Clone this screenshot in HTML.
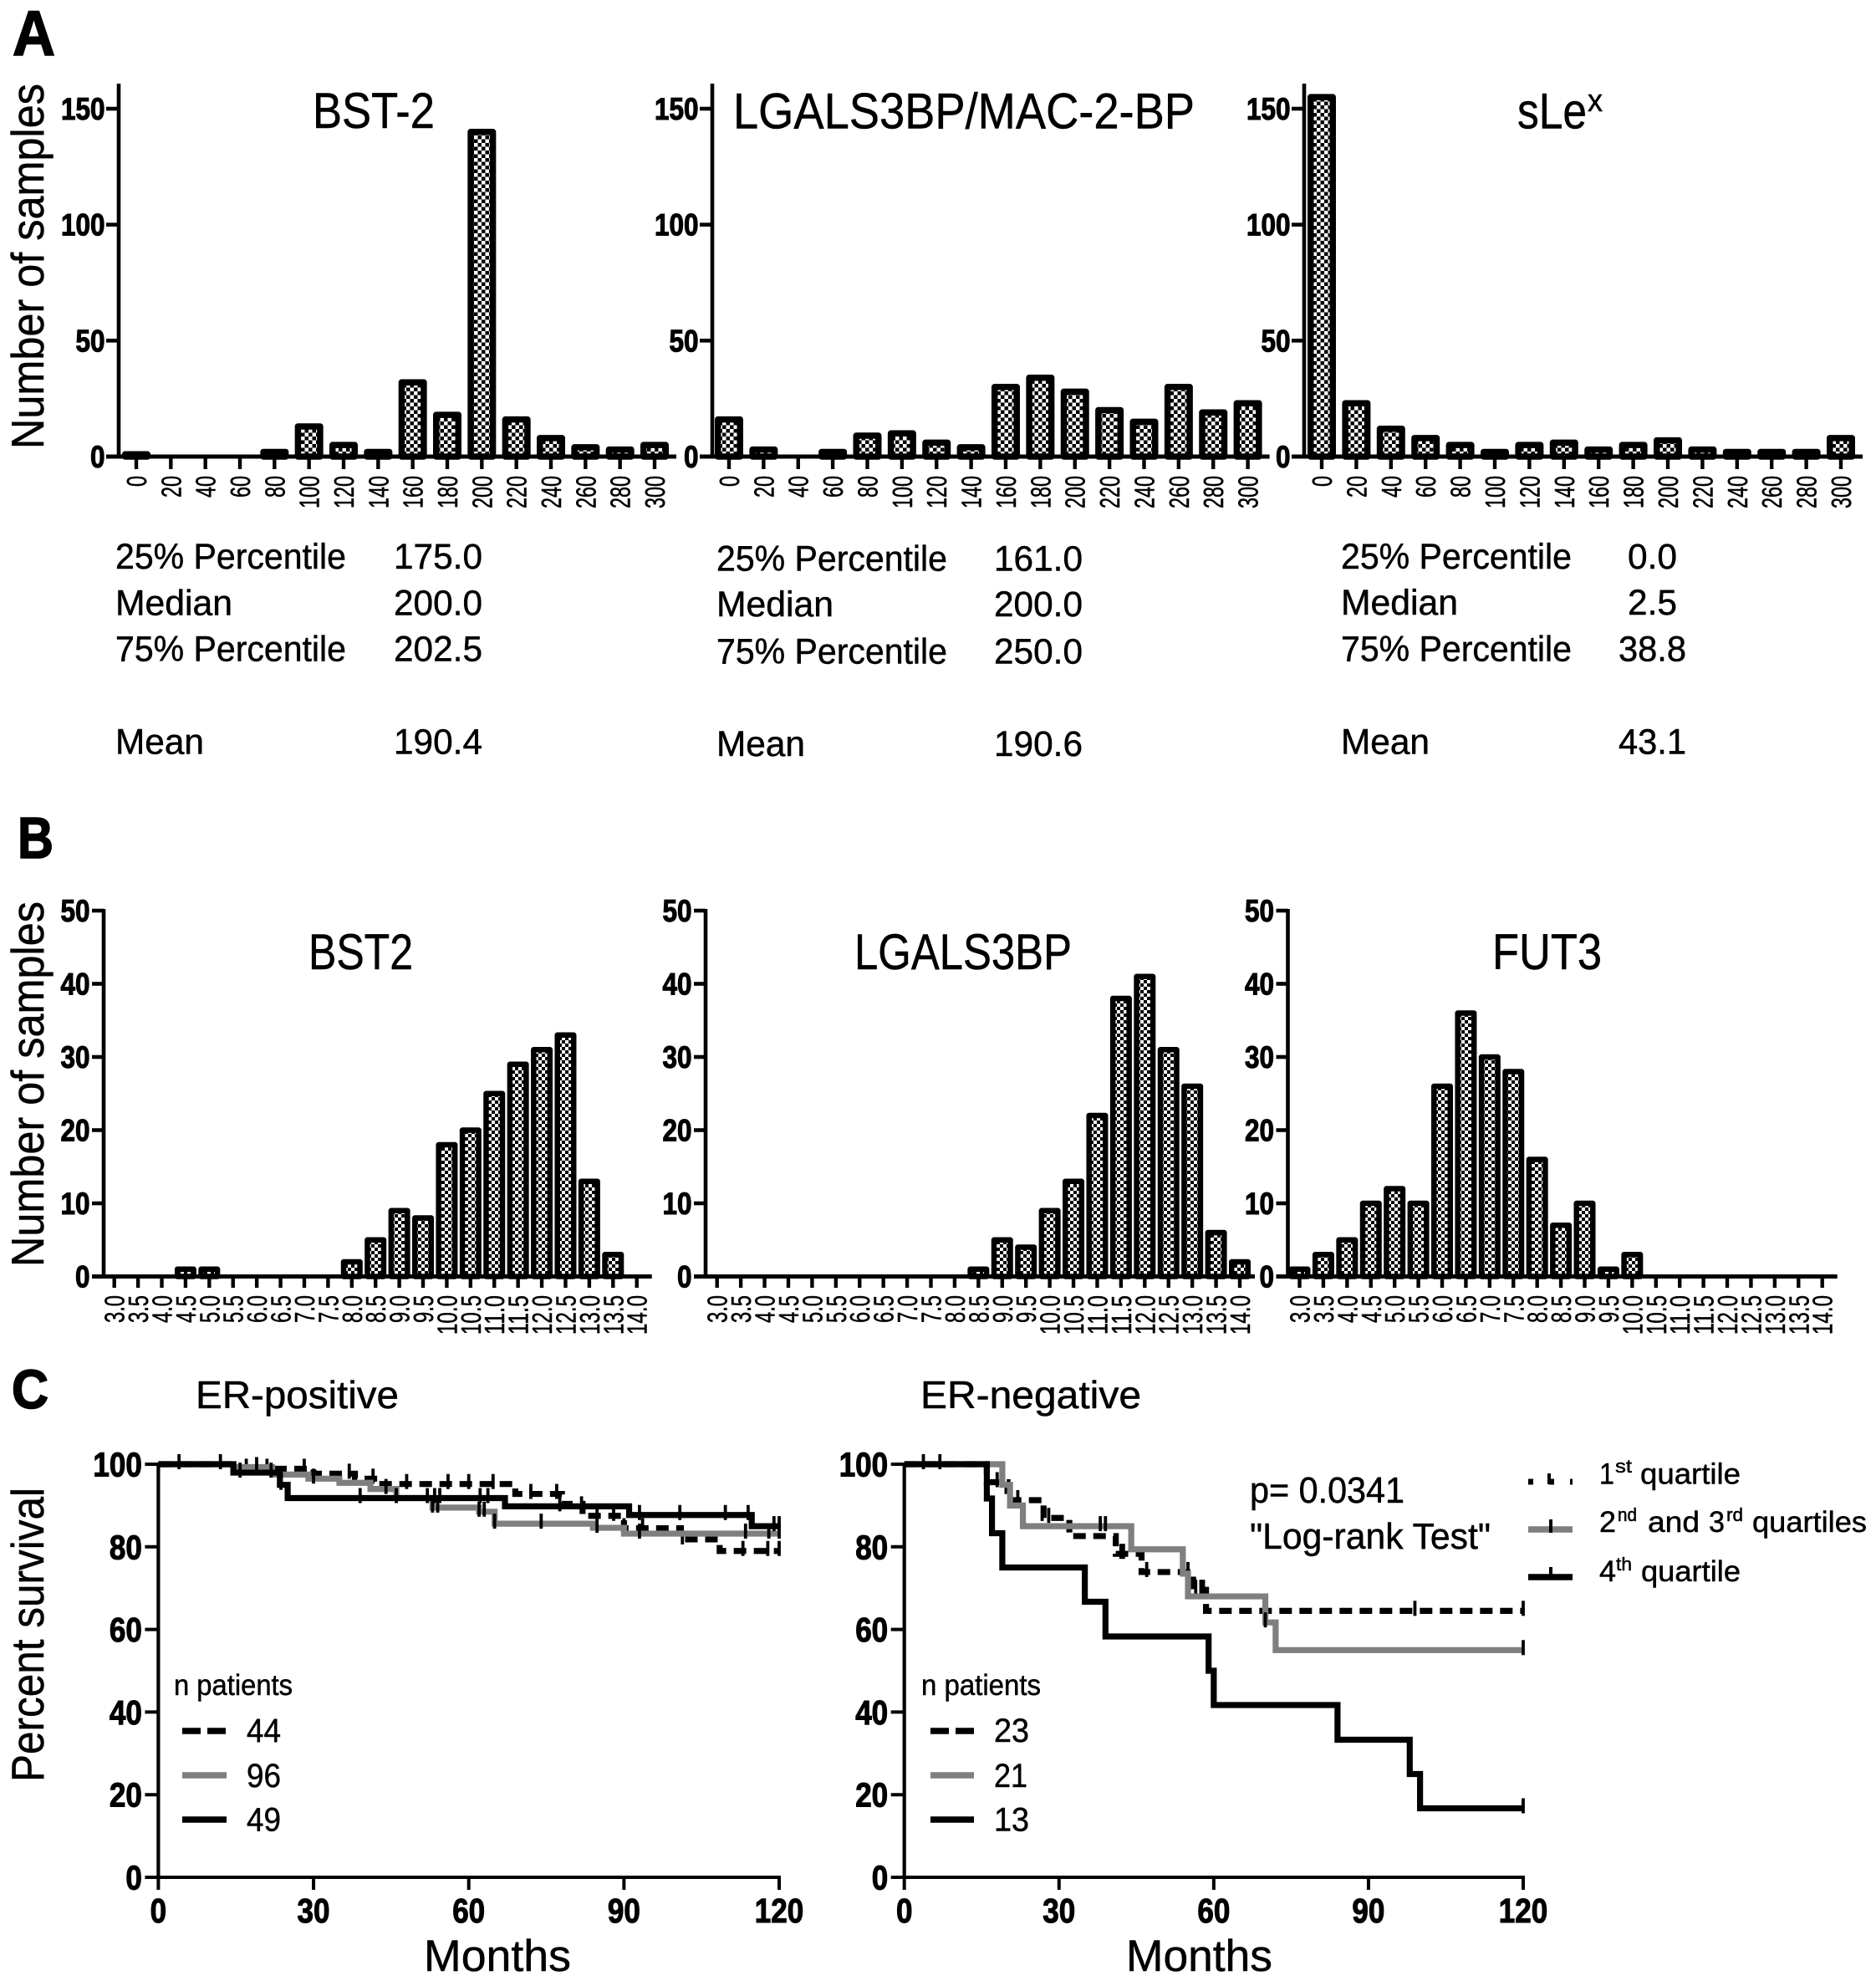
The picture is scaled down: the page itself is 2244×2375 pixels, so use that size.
<!DOCTYPE html>
<html lang="en">
<head>
<meta charset="utf-8">
<title>Glycoprotein histograms and survival curves</title>
<style>
html,body{margin:0;padding:0;background:#fff;}
svg{display:block;}
text{font-family:"Liberation Sans",sans-serif;fill:#000;stroke:#000;stroke-width:0.5px;}
.b{font-weight:bold;stroke-width:1.6px;}
</style>
</head>
<body>
<svg id="fig" xmlns="http://www.w3.org/2000/svg" width="2244" height="2375" viewBox="0 0 2244 2375">
<defs>
<pattern id="checkA" patternUnits="userSpaceOnUse" width="9" height="9">
<rect width="9" height="9" fill="#000"/><rect width="4.5" height="4.5" fill="#fff"/><rect x="4.5" y="4.5" width="4.5" height="4.5" fill="#fff"/>
</pattern>
<pattern id="checkB" patternUnits="userSpaceOnUse" width="8" height="8">
<rect width="8" height="8" fill="#000"/><rect width="4" height="4" fill="#fff"/><rect x="4" y="4" width="4" height="4" fill="#fff"/>
</pattern>
</defs>
<rect width="2244" height="2375" fill="#fff"/>

<text class="b" x="15" y="66" font-size="76" textLength="51" lengthAdjust="spacingAndGlyphs">A</text>
<text class="b" x="21" y="1026" font-size="70" textLength="43" lengthAdjust="spacingAndGlyphs">B</text>
<text class="b" x="14" y="1684" font-size="66" textLength="44" lengthAdjust="spacingAndGlyphs">C</text>

<text transform="translate(52,537) rotate(-90)" font-size="55" textLength="437" lengthAdjust="spacingAndGlyphs">Number of samples</text>
<text transform="translate(52,1515) rotate(-90)" font-size="55" textLength="437" lengthAdjust="spacingAndGlyphs">Number of samples</text>
<text transform="translate(52,2131) rotate(-90)" font-size="55" textLength="352" lengthAdjust="spacingAndGlyphs">Percent survival</text>

<text x="374" y="153" font-size="60" textLength="146" lengthAdjust="spacingAndGlyphs">BST-2</text>
<text x="877" y="153.5" font-size="60" textLength="552" lengthAdjust="spacingAndGlyphs">LGALS3BP/MAC-2-BP</text>
<text x="1815" y="153.5" font-size="60" textLength="83" lengthAdjust="spacingAndGlyphs">sLe</text>
<text x="1899" y="133" font-size="38" textLength="18" lengthAdjust="spacingAndGlyphs">x</text>

<text x="369" y="1159" font-size="60" textLength="125" lengthAdjust="spacingAndGlyphs">BST2</text>
<text x="1022" y="1159" font-size="60" textLength="260" lengthAdjust="spacingAndGlyphs">LGALS3BP</text>
<text x="1785" y="1159" font-size="60" textLength="131" lengthAdjust="spacingAndGlyphs">FUT3</text>

<g font-size="43">
<text x="138" y="680" textLength="276" lengthAdjust="spacingAndGlyphs">25% Percentile</text>
<text x="138" y="735.5" textLength="140" lengthAdjust="spacingAndGlyphs">Median</text>
<text x="138" y="790.5" textLength="276" lengthAdjust="spacingAndGlyphs">75% Percentile</text>
<text x="138" y="901.5" textLength="106" lengthAdjust="spacingAndGlyphs">Mean</text>
<text x="471" y="680" textLength="106" lengthAdjust="spacingAndGlyphs">175.0</text>
<text x="471" y="735.5" textLength="106" lengthAdjust="spacingAndGlyphs">200.0</text>
<text x="471" y="790.5" textLength="106" lengthAdjust="spacingAndGlyphs">202.5</text>
<text x="471" y="901.5" textLength="106" lengthAdjust="spacingAndGlyphs">190.4</text>
</g>
<g font-size="43">
<text x="857" y="682.3" textLength="276" lengthAdjust="spacingAndGlyphs">25% Percentile</text>
<text x="857" y="737" textLength="140" lengthAdjust="spacingAndGlyphs">Median</text>
<text x="857" y="793.3" textLength="276" lengthAdjust="spacingAndGlyphs">75% Percentile</text>
<text x="857" y="904" textLength="106" lengthAdjust="spacingAndGlyphs">Mean</text>
<text x="1189" y="682.3" textLength="106" lengthAdjust="spacingAndGlyphs">161.0</text>
<text x="1189" y="737" textLength="106" lengthAdjust="spacingAndGlyphs">200.0</text>
<text x="1189" y="793.3" textLength="106" lengthAdjust="spacingAndGlyphs">250.0</text>
<text x="1189" y="904" textLength="106" lengthAdjust="spacingAndGlyphs">190.6</text>
</g>
<g font-size="43">
<text x="1604" y="680" textLength="276" lengthAdjust="spacingAndGlyphs">25% Percentile</text>
<text x="1604" y="735" textLength="140" lengthAdjust="spacingAndGlyphs">Median</text>
<text x="1604" y="790.5" textLength="276" lengthAdjust="spacingAndGlyphs">75% Percentile</text>
<text x="1604" y="901.5" textLength="106" lengthAdjust="spacingAndGlyphs">Mean</text>
<text x="1947" y="680" textLength="59" lengthAdjust="spacingAndGlyphs">0.0</text>
<text x="1947" y="735" textLength="59" lengthAdjust="spacingAndGlyphs">2.5</text>
<text x="1936" y="790.5" textLength="81" lengthAdjust="spacingAndGlyphs">38.8</text>
<text x="1936" y="901.5" textLength="81" lengthAdjust="spacingAndGlyphs">43.1</text>
</g>

<text x="234" y="1684" font-size="46" textLength="243" lengthAdjust="spacingAndGlyphs">ER-positive</text>
<text x="1101" y="1684" font-size="46" textLength="264" lengthAdjust="spacingAndGlyphs">ER-negative</text>
<text x="507" y="2357" font-size="53" textLength="176" lengthAdjust="spacingAndGlyphs">Months</text>
<text x="1347" y="2357" font-size="53" textLength="175" lengthAdjust="spacingAndGlyphs">Months</text>

<text x="208" y="2027" font-size="35" textLength="142" lengthAdjust="spacingAndGlyphs">n patients</text>
<g font-size="40">
<line x1="218" x2="271" y1="2070" y2="2070" stroke="#000" stroke-width="7.5" stroke-dasharray="22 8"/>
<line x1="218" x2="271" y1="2123" y2="2123" stroke="#7f7f7f" stroke-width="7.5"/>
<line x1="218" x2="271" y1="2176" y2="2176" stroke="#000" stroke-width="7.5"/>
<text x="295" y="2083" textLength="41" lengthAdjust="spacingAndGlyphs">44</text>
<text x="295" y="2137" textLength="41" lengthAdjust="spacingAndGlyphs">96</text>
<text x="295" y="2189.5" textLength="41" lengthAdjust="spacingAndGlyphs">49</text>
</g>
<text x="1102" y="2027" font-size="35" textLength="143" lengthAdjust="spacingAndGlyphs">n patients</text>
<g font-size="40">
<line x1="1113" x2="1165" y1="2070" y2="2070" stroke="#000" stroke-width="7.5" stroke-dasharray="22 8"/>
<line x1="1113" x2="1165" y1="2123" y2="2123" stroke="#7f7f7f" stroke-width="7.5"/>
<line x1="1113" x2="1165" y1="2176" y2="2176" stroke="#000" stroke-width="7.5"/>
<text x="1189" y="2083" textLength="42" lengthAdjust="spacingAndGlyphs">23</text>
<text x="1189" y="2137" textLength="40" lengthAdjust="spacingAndGlyphs">21</text>
<text x="1189" y="2189.5" textLength="42" lengthAdjust="spacingAndGlyphs">13</text>
</g>

<text x="1495" y="1797" font-size="44" textLength="185" lengthAdjust="spacingAndGlyphs">p= 0.0341</text>
<text x="1495" y="1852" font-size="44" textLength="288" lengthAdjust="spacingAndGlyphs">"Log-rank Test"</text>

<g font-size="35">
<line x1="1828" x2="1881" y1="1772" y2="1772" stroke="#000" stroke-width="7" stroke-dasharray="6 19"/>
<line x1="1853" x2="1853" y1="1762" y2="1775" stroke="#000" stroke-width="4"/>
<line x1="1828" x2="1881" y1="1829" y2="1829" stroke="#7f7f7f" stroke-width="7.5"/>
<line x1="1855" x2="1855" y1="1817" y2="1833" stroke="#000" stroke-width="4"/>
<line x1="1828" x2="1881" y1="1886" y2="1886" stroke="#000" stroke-width="7.5"/>
<line x1="1855" x2="1855" y1="1874" y2="1888" stroke="#000" stroke-width="4"/>
<text x="1913" y="1774.5" textLength="18" lengthAdjust="spacingAndGlyphs">1</text>
<text x="1932" y="1761" font-size="22" textLength="20" lengthAdjust="spacingAndGlyphs">st</text>
<text x="1962" y="1774.5" textLength="120" lengthAdjust="spacingAndGlyphs">quartile</text>
<text x="1913" y="1832" textLength="20" lengthAdjust="spacingAndGlyphs">2</text>
<text x="1935" y="1819" font-size="22" textLength="23" lengthAdjust="spacingAndGlyphs">nd</text>
<text x="1971" y="1832" textLength="62" lengthAdjust="spacingAndGlyphs">and</text>
<text x="2044" y="1832" textLength="19" lengthAdjust="spacingAndGlyphs">3</text>
<text x="2065" y="1819" font-size="22" textLength="20" lengthAdjust="spacingAndGlyphs">rd</text>
<text x="2096" y="1832" textLength="137" lengthAdjust="spacingAndGlyphs">quartiles</text>
<text x="1913" y="1891" textLength="20" lengthAdjust="spacingAndGlyphs">4</text>
<text x="1933" y="1878" font-size="22" textLength="19" lengthAdjust="spacingAndGlyphs">th</text>
<text x="1963" y="1891" textLength="119" lengthAdjust="spacingAndGlyphs">quartile</text>
</g>
</svg>

<script>
const histCategories = ['0','20','40','60','80','100','120','140','160','180','200','220','240','260','280','300'];
const bst2ProteinValues = [1,0,0,0,2,13,5,2,32,18,140,16,8,4,3,5];
const lgalsProteinValues = [16,3,0,2,9,10,6,4,30,34,28,20,15,30,19,23];
const slexValues = [155,23,12,8,5,2,5,6,3,5,7,3,2,2,2,8];
const histYTicks = [0,50,100,150];

const exprCategories = ['3.0','3.5','4.0','4.5','5.0','5.5','6.0','6.5','7.0','7.5','8.0','8.5','9.0','9.5','10.0','10.5','11.0','11.5','12.0','12.5','13.0','13.5','14.0'];
const bst2ExprValues = [0,0,0,1,1,0,0,0,0,0,2,5,9,8,18,20,25,29,31,33,13,3,0];
const lgalsExprValues = [0,0,0,0,0,0,0,0,0,0,0,1,5,4,9,13,22,38,41,31,26,6,2];
const fut3ExprValues = [1,3,5,10,12,10,26,36,30,28,16,7,10,1,3,0,0,0,0,0,0,0,0];
const exprYTicks = [0,10,20,30,40,50];

const survivalYTicks = [0,20,40,60,80,100];
const survivalXTicks = [0,30,60,90,120];

const posQ1Months = [0,15,30,38,42.5,69,78,82,90,101,108.5,120];
const posQ1Survival = [100,98.9,97.7,96.5,95.2,92.8,90.4,87.5,84.5,81.8,79,79];
const posQ1Censored = [17,21,28.2,36.9,41.5,48,56,60,64.7,72,77,84.8,88,90,93.6,101.3,113,117.8,120];
const posQ23Months = [0,14.5,22,29,35,41,46,53,62,65,84,90,120];
const posQ23Survival = [100,99.3,97.5,96.5,95.5,94,91.8,89.5,88.5,85.6,84.6,83.2,83.2];
const posQ23Censored = [19,30,44,53,54,62,63,65,74,84.8,93,113.5,118,120];
const posQ4Months = [0,14.5,23.5,25,67,91,114.7,120];
const posQ4Survival = [100,97.96,95,91.8,89.8,87.7,85,85];
const posQ4Censored = [4,12,15.8,21.8,23.7,39,46,52,53.4,54.4,62.2,63.7,77.6,81.8,93,100.8,109.6,114,119,120];

const negQ1Months = [0,16,20,27,32,41,46,56,58.5,120];
const negQ1Survival = [100,95.65,91.3,87,82.6,78.3,73.9,69.6,64.5,64.5];
const negQ1Censored = [18,22,28,42,42.5,47,55,56.5,57.5,58,99,120];
const negQ23Months = [0,19,20.5,23,44,54,55,70,72,120];
const negQ23Survival = [100,95,90,85,79.4,73.5,68,61.7,55,55];
const negQ23Censored = [38,39,70,120];
const negQ4Months = [0,16,17,19,35,39,59,60,84,98,100,120];
const negQ4Survival = [100,91.7,83.3,75,66.7,58.3,50,41.7,33.3,25,16.7,16.7];
const negQ4Censored = [3.7,6.9,120];

const svg = document.getElementById('fig');
const NS = 'http://www.w3.org/2000/svg';

function linear(d0, d1, r0, r1) {
  return function (v) { return r0 + (v - d0) * (r1 - r0) / (d1 - d0); };
}
function makeEl(tag, parent, props) {
  const el = document.createElementNS(NS, tag);
  for (const k in props) el.setAttribute(k, props[k]);
  parent.appendChild(el);
  return el;
}
function addLine(parent, name, x1, y1, x2, y2, w, color) {
  const el = makeEl('line', parent, {x1: x1, y1: y1, x2: x2, y2: y2, stroke: color || '#000', 'stroke-width': w});
  
  
  return el;
}
function addText(parent, name, str, props) {
  const el = makeEl('text', parent, props);
  el.textContent = str;
  el.setAttribute('lengthAdjust', 'spacingAndGlyphs');
  
  
  return el;
}
function addGroup(name) {
  const g = makeEl('g', svg, {});
  
  
  return g;
}

const histLayouts = {
  a: {yBase: 546, yAtMax: 130, yDomainMax: 150, axisTop: 100, barW: 26.5, barStroke: 7.5, pattern: 'checkA', tickBottom: 561, tickLeft: 15, labelTop: 569, rightPad: 26, fontSize: 37, axisW: 4.6, charLen: function (c) { return 13; }},
  b: {yBase: 1526.5, yAtMax: 1089, yDomainMax: 50, axisTop: 1087, barW: 19.5, barStroke: 6.5, pattern: 'checkB', tickBottom: 1540, tickLeft: 14, labelTop: 1549, rightPad: 18, fontSize: 37, axisW: 4.6, charLen: function (c) { return c === '.' ? 5 : 14; }}
};

function drawHist(name, layout, categories, values, yTicks, axisX, cx0, cx1) {
  const g = addGroup(name);
  const x = linear(0, categories.length - 1, cx0, cx1);
  const y = linear(0, layout.yDomainMax, layout.yBase, layout.yAtMax);
  values.forEach(function (v, i) {
    if (v <= 0) return;
    const bar = makeEl('rect', g, {
      x: x(i) - layout.barW / 2,
      y: y(v),
      width: layout.barW,
      height: layout.yBase - y(v),
      fill: 'url(#' + layout.pattern + ')',
      stroke: '#000',
      'stroke-width': layout.barStroke,
      'stroke-linejoin': 'round'
    });
    
    
  });
  addLine(g, 'y-axis', axisX, layout.axisTop, axisX, layout.yBase + 2, layout.axisW);
  addLine(g, 'x-axis', axisX - layout.tickLeft, layout.yBase, cx1 + layout.rightPad, layout.yBase, 5);
  yTicks.forEach(function (t) {
    addLine(g, 'y-tick-' + t, axisX - layout.tickLeft, y(t), axisX, y(t), 4.6);
    const s = String(t);
    const len = s.length * 17.5;
    const label = addText(g, 'y-tick-label-' + t, s, {
      x: axisX - 16.5 - len,
      y: y(t) + 13,
      'font-size': layout.fontSize,
      'font-weight': 'bold',
      textLength: len
    });
    label.style.strokeWidth = '1.1px';
  });
  categories.forEach(function (c, i) {
    addLine(g, 'x-tick-' + c, x(i), layout.yBase, x(i), layout.tickBottom, 4.4);
    let len = 0;
    for (const ch of c) len += layout.charLen(ch);
    addText(g, 'x-tick-label-' + c, c, {
      transform: 'translate(' + (x(i) + 12) + ',' + (layout.labelTop + len) + ') rotate(-90)',
      'font-size': 33,
      textLength: len
    });
  });
}

drawHist('histogram-bst-2', histLayouts.a, histCategories, bst2ProteinValues, histYTicks, 142, 163, 783);
drawHist('histogram-lgals3bp-mac-2-bp', histLayouts.a, histCategories, lgalsProteinValues, histYTicks, 852, 872, 1492.6);
drawHist('histogram-slex', histLayouts.a, histCategories, slexValues, histYTicks, 1560, 1581, 2202);
drawHist('histogram-bst2', histLayouts.b, exprCategories, bst2ExprValues, exprYTicks, 124, 136.7, 761.7);
drawHist('histogram-lgals3bp', histLayouts.b, exprCategories, lgalsExprValues, exprYTicks, 844, 857.7, 1483);
drawHist('histogram-fut3', histLayouts.b, exprCategories, fut3ExprValues, exprYTicks, 1540.5, 1554.5, 2179.7);

function stepPath(months, survival, x, y) {
  let d = 'M' + x(months[0]) + ',' + y(survival[0]);
  for (let i = 1; i < months.length; i++) {
    d += ' H' + x(months[i]) + ' V' + y(survival[i]);
  }
  return d;
}
function survivalAt(months, survival, m) {
  let s = survival[0];
  for (let i = 0; i < months.length; i++) {
    if (months[i] <= m) s = survival[i];
  }
  return s;
}
function drawCurve(g, name, months, survival, censored, x, y, color, dash) {
  const props = {d: stepPath(months, survival, x, y), fill: 'none', stroke: color, 'stroke-width': 7.2};
  if (dash) props['stroke-dasharray'] = dash;
  const p = makeEl('path', g, props);
  
  
  censored.forEach(function (m) {
    const cy = y(survivalAt(months, survival, m));
    addLine(g, name + '-censor-' + m, x(m), cy - 12, x(m), cy + 6, 3.8);
  });
}
function drawSurvivalAxes(g, x, y, xTicks, yTicks, axisX, yTop, yBase) {
  addLine(g, 'y-axis', axisX, yTop - 2, axisX, yBase + 2, 4.2);
  addLine(g, 'x-axis', axisX, yBase, x(xTicks[xTicks.length - 1]) + 2, yBase, 4);
  yTicks.forEach(function (t) {
    addLine(g, 'y-tick-' + t, axisX - 16, y(t), axisX, y(t), 4);
    const s = String(t);
    const len = s.length * 19.5;
    const yLabel = addText(g, 'y-tick-label-' + t, s, {
      x: axisX - 19.5 - len,
      y: y(t) + 14.5,
      'font-size': 41,
      'font-weight': 'bold',
      textLength: len
    });
    yLabel.style.strokeWidth = '1.1px';
  });
  xTicks.forEach(function (t) {
    addLine(g, 'x-tick-' + t, x(t), yBase, x(t), yBase + 15, 4);
    const s = String(t);
    const len = s.length * 19.5;
    const xLabel = addText(g, 'x-tick-label-' + t, s, {
      x: x(t) - len / 2,
      y: 2299,
      'font-size': 41,
      'font-weight': 'bold',
      textLength: len
    });
    xLabel.style.strokeWidth = '1.1px';
  });
}

const posGroup = addGroup('survival-er-positive');
const posX = linear(0, 120, 189.4, 932);
const posY = linear(0, 100, 2245, 1751);
drawCurve(posGroup, 'curve-q1', posQ1Months, posQ1Survival, posQ1Censored, posX, posY, '#000', '15 9');
drawCurve(posGroup, 'curve-q2-q3', posQ23Months, posQ23Survival, posQ23Censored, posX, posY, '#7f7f7f', null);
drawCurve(posGroup, 'curve-q4', posQ4Months, posQ4Survival, posQ4Censored, posX, posY, '#000', null);
drawSurvivalAxes(posGroup, posX, posY, survivalXTicks, survivalYTicks, 189.4, 1751, 2245);

const negGroup = addGroup('survival-er-negative');
const negX = linear(0, 120, 1081.7, 1822);
const negY = linear(0, 100, 2245, 1751);
drawCurve(negGroup, 'curve-q1', negQ1Months, negQ1Survival, negQ1Censored, negX, negY, '#000', '15 9');
drawCurve(negGroup, 'curve-q2-q3', negQ23Months, negQ23Survival, negQ23Censored, negX, negY, '#7f7f7f', null);
drawCurve(negGroup, 'curve-q4', negQ4Months, negQ4Survival, negQ4Censored, negX, negY, '#000', null);
drawSurvivalAxes(negGroup, negX, negY, survivalXTicks, survivalYTicks, 1081.7, 1751, 2245);
</script>
</body>
</html>
